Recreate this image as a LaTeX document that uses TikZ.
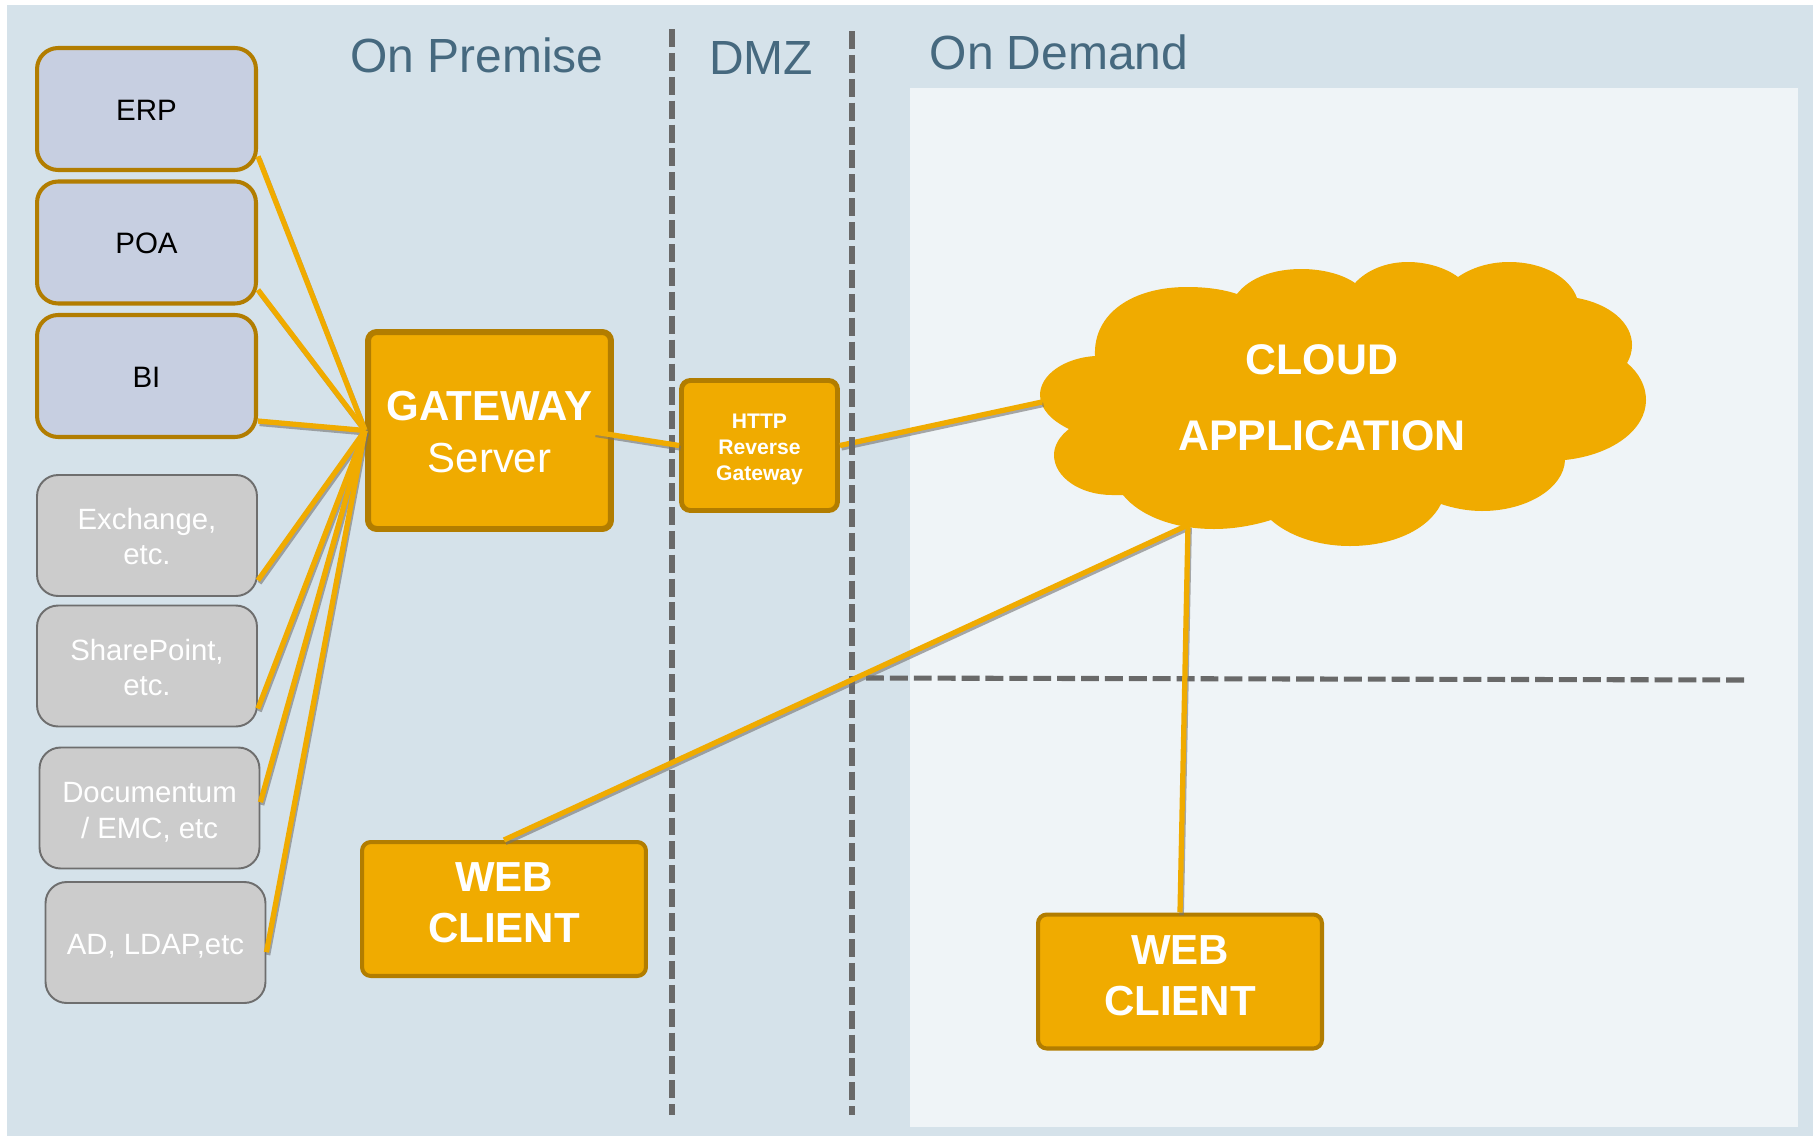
\documentclass[tikz,border=0pt]{standalone}
\usepackage{fontspec}
\setmainfont{Liberation Sans}
\usepackage{tikz}
\definecolor{zoneblue}  {RGB}{213,226,234}
\definecolor{cloudzone} {RGB}{239,244,247}
\definecolor{sapgold}   {RGB}{240,171,0}
\definecolor{darkgold}  {RGB}{178,125,0}
\definecolor{sysblue}   {RGB}{199,207,225}
\definecolor{sysgrey}   {RGB}{204,204,204}
\definecolor{edgegrey}  {RGB}{110,110,110}
\definecolor{dashgrey}  {RGB}{105,105,105}
\definecolor{zonetext}  {RGB}{70,105,127}
\newcommand{\toproom}[1]{\rule{0pt}{#1pt}}
\newcommand{\lowroom}[1]{\rule[-#1pt]{0pt}{0pt}}
\tikzset{
    system/.style={draw=darkgold, line width=2.3pt, fill=sysblue, rounded corners=12pt,
             minimum width=4.38cm, minimum height=2.44cm, align=center,
             font=\fontsize{16.8}{20}\selectfont},
    legacy/.style={draw=edgegrey, line width=1.1pt, fill=sysgrey, rounded corners=12pt,
             minimum width=4.4cm, minimum height=2.42cm, align=center, text=white,
             font=\fontsize{16.7}{20}\selectfont},
    goldbox/.style={draw=darkgold, fill=sapgold, rounded corners=5pt, align=center, text=white},
    webclient/.style={goldbox, line width=2.3pt, minimum width=5.68cm, minimum height=2.68cm,
             font=\fontsize{23.9}{29}\selectfont\bfseries},
    zonelabel/.style={text=zonetext, inner sep=0pt, font=\fontsize{27.3}{32}\selectfont},
    link/.style={draw=sapgold, line width=3pt,
             preaction={draw=black!55, opacity=.6, line width=2.6pt,
                        transform canvas={shift={(.9pt,-1.6pt)}}}
    },
    zoneline/.style={draw=dashgrey, line width=3.3pt, dash pattern=on 10.2pt off 3.4pt}
  }
\begin{document}
\begin{tikzpicture}[x=0.02cm,y=-0.02cm]
 % page and zones
     \useasboundingbox (0,0) rectangle (1816,1136);
     \fill[zoneblue] (7,5) rectangle (1813,1136);
     \fill[cloudzone] (910,88) rectangle (1798,1127);
 % zone names
     \node[zonelabel] (premise) at (477,55) {On Premise};
     \node[zonelabel] (dmz) at (761,58) {DMZ};
     \node[zonelabel] (demand) at (1059,52) {On Demand};
 % cloud
     \fill[sapgold] (1095,356) .. controls (1093,313) and (1133,287) .. (1187,287)
        .. controls (1205,287) and (1222,289) .. (1237,294)
        .. controls (1250,277) and (1275,269) .. (1301,269)
        .. controls (1322,269) and (1342,274) .. (1355,283)
        .. controls (1367,270) and (1386,262) .. (1408,262)
        .. controls (1427,262) and (1446,268) .. (1458,277)
        .. controls (1471,268) and (1489,262) .. (1509,262)
        .. controls (1544,262) and (1570,278) .. (1577,298)
        .. controls (1610,304) and (1632,323) .. (1632,345)
        .. controls (1632,352) and (1630,358) .. (1627,363)
        .. controls (1639,373) and (1646,386) .. (1646,400)
        .. controls (1646,430) and (1612,455) .. (1565,460)
        .. controls (1564,488) and (1527,511) .. (1482,511)
        .. controls (1467,511) and (1453,508) .. (1441,504)
        .. controls (1428,530) and (1392,546) .. (1350,546)
        .. controls (1316,546) and (1288,535) .. (1271,520)
        .. controls (1255,525) and (1235,529) .. (1214,529)
        .. controls (1174,529) and (1140,516) .. (1123,495)
        .. controls (1119,495) and (1116,495) .. (1112,495)
        .. controls (1080,495) and (1054,477) .. (1054,455)
        .. controls (1054,445) and (1060,436) .. (1069,429)
        .. controls (1052,421) and (1040,409) .. (1040,395)
        .. controls (1040,375) and (1064,358) .. (1095,356) -- cycle;
     \node[text=white, align=center, font=\fontsize{24.4}{43.6}\selectfont\bfseries] (cloudname) at (1322,397.6) {CLOUD\\APPLICATION};
     \coordinate (cloudwest) at (1042,402);
     \coordinate (cloudsouth) at (1188,525);
 % on premise systems
     \node[system] (erp) at (146.5,109) {\toproom{12.6}ERP};
     \node[system] (poa) at (146.5,242.5) {\toproom{12.6}POA};
     \node[system] (bi) at (146.5,376) {\toproom{12.6}BI};
     \node[legacy] (exchange) at (147,535.5) {\toproom{13.4}Exchange,\\etc.};
     \node[legacy] (sharepoint) at (147,666) {\toproom{13.4}SharePoint,\\etc.};
     \node[legacy] (documentum) at (149.5,808) {\toproom{16.4}Documentum\\/ EMC, etc};
     \node[legacy] (ldap) at (155.5,942.5) {\toproom{15.6}AD, LDAP,etc};
 % gateways
     \node[goldbox, line width=3.4pt, minimum width=4.86cm, minimum height=3.94cm,
           font=\fontsize{23.9}{29.6}\selectfont] (gateway) at (489.5,430.5) {\toproom{18.6}\textbf{GATEWAY}\\Server};
     \coordinate (gatewayout) at (594,432);
     \node[goldbox, line width=2.8pt, minimum width=3.12cm, minimum height=2.6cm,
           font=\fontsize{12}{14.8}\selectfont\bfseries] (proxy) at (759.5,445.5) {\toproom{12.2}HTTP\\Reverse\\Gateway};
 % web clients
     \node[webclient] (webinside) at (504,909) {WEB\\\lowroom{7.3}CLIENT};
     \node[webclient] (weboutside) at (1180,981.5) {WEB\\\lowroom{7.3}CLIENT};
 % dmz to cloud
     \draw[link] (proxy.east) -- (cloudwest);
 % zone borders
     \coordinate (dmzlefttop) at (672,29);
     \coordinate (dmzleftend) at (672,1115);
     \coordinate (dmzrighttop) at (852,31);
     \coordinate (dmzrightend) at (852,1115);
     \coordinate (splitleft) at (866,678);
     \coordinate (splitright) at (1748,680);
     \draw[zoneline] (dmzlefttop) -- (dmzleftend);
     \draw[zoneline] (dmzrighttop) -- (dmzrightend);
     \draw[zoneline, line width=2.9pt] (splitleft) -- (splitright);
 % systems to gateway
     \draw[link] (erp.-23.4) -- (gateway.west);
     \draw[link] (poa.-23.6) -- (gateway.west);
     \draw[link] (bi.-22.5) -- (gateway.west);
     \draw[link] (exchange.-22.7) -- (gateway.west);
     \draw[link] (sharepoint.-21) -- (gateway.west);
     \draw[link] (documentum.3) -- (gateway.west);
     \draw[link] (ldap.-5.4) -- (gateway.west);
 % gateway to dmz
     \draw[link] (gatewayout) -- (proxy.west);
 % web clients to cloud
     \draw[link] (webinside.north) -- (cloudsouth);
     \draw[link] (weboutside.north) -- (cloudsouth);
 \end{tikzpicture}
\end{document}
